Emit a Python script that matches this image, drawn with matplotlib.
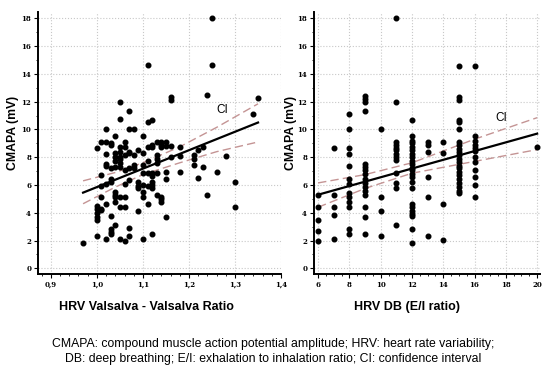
import matplotlib
matplotlib.use("Agg")
import matplotlib.pyplot as plt
from matplotlib.ticker import MultipleLocator

# Valsalva ratio panel
val_x = [0.97,
         1.00, 1.00, 1.00, 1.00, 1.00, 1.00, 1.00,
         1.01, 1.01, 1.01, 1.01, 1.01, 1.01,
         1.02, 1.02, 1.02, 1.02, 1.02, 1.02, 1.02, 1.02,
         1.03, 1.03, 1.03, 1.03, 1.03, 1.03, 1.03, 1.03, 1.03,
         1.04, 1.04, 1.04, 1.04, 1.04, 1.04, 1.04, 1.04, 1.04, 1.04,
         1.05, 1.05, 1.05, 1.05, 1.05, 1.05, 1.05, 1.05, 1.05, 1.05, 1.05,
         1.06, 1.06, 1.06, 1.06, 1.06, 1.06, 1.06, 1.06,
         1.07, 1.07, 1.07, 1.07, 1.07, 1.07, 1.07, 1.07,
         1.08, 1.08, 1.08, 1.08,
         1.09, 1.09, 1.09, 1.09, 1.09,
         1.10, 1.10, 1.10, 1.10, 1.10, 1.10, 1.10, 1.10,
         1.11, 1.11, 1.11, 1.11, 1.11, 1.11, 1.11,
         1.12, 1.12, 1.12, 1.12, 1.12, 1.12, 1.12, 1.12, 1.12,
         1.13, 1.13, 1.13, 1.13, 1.13, 1.13,
         1.14, 1.14, 1.14, 1.14, 1.14, 1.14,
         1.15, 1.15, 1.15, 1.15, 1.15,
         1.16, 1.16, 1.16, 1.16,
         1.18, 1.18, 1.18,
         1.21, 1.21, 1.21,
         1.22, 1.22,
         1.23, 1.23,
         1.24, 1.24,
         1.25, 1.25,
         1.26, 1.28, 1.30, 1.30, 1.34, 1.35]
val_y = [1.8,
         8.7, 4.5, 4.3, 4.0, 3.7, 3.5, 2.3,
         9.1, 6.7, 5.9, 5.1, 4.3, 4.2,
         10.0, 9.1, 8.2, 7.5, 7.4, 6.1, 4.6, 2.1,
         9.05, 8.9, 7.2, 6.4, 6.2, 3.8, 2.8, 2.6, 2.5,
         9.5, 8.3, 8.0, 7.7, 7.3, 5.5, 5.3, 5.1, 4.8, 3.1,
         12.0, 10.75, 8.75, 8.4, 8.0, 7.85, 7.55, 7.3, 5.1, 4.45, 2.1,
         9.1, 8.75, 8.15, 7.1, 6.1, 5.1, 4.45, 2.0,
         11.35, 10.0, 8.4, 8.3, 7.2, 6.35, 2.9, 2.3,
         10.0, 8.15, 7.45, 7.2,
         8.5, 6.25, 5.9, 5.75, 4.1,
         9.5, 8.3, 7.45, 6.85, 6.0, 5.5, 5.15, 2.1,
         14.65, 10.55, 8.75, 7.7, 6.85, 5.9, 4.65,
         10.7, 8.9, 8.75, 6.85, 6.65, 6.25, 6.0, 5.75, 2.5,
         9.1, 8.15, 7.9, 7.55, 6.85, 5.3,
         9.1, 8.9, 8.75, 5.15, 5.0, 4.8,
         9.1, 8.8, 6.95, 6.4, 3.7,
         12.35, 12.1, 8.8, 8.05,
         8.75, 8.1, 6.95,
         8.15, 7.9, 7.45,
         8.55, 6.5,
         8.75, 7.3,
         12.45, 5.3,
         18.0, 14.65,
         6.95, 8.1, 6.25, 4.45, 11.1, 12.3]
val_fit_x = [0.97, 1.35]
val_fit_y = [5.45, 10.5]
val_ci_x = [0.97, 1.04, 1.10, 1.18, 1.26, 1.35]
val_ci_hi = [6.3, 6.9, 7.6, 8.75, 10.15, 11.85]
val_ci_lo = [4.65, 5.85, 6.75, 7.6, 8.4, 9.1]
val_ticks = [0.9, 1.0, 1.1, 1.2, 1.3, 1.4]
val_ticklabels = ["0,9", "1,0", "1,1", "1,2", "1,3", "1,4"]

# deep breathing E/I panel
db_x = [6, 6, 6, 6, 6,
        7, 7, 7, 7, 7,
        8, 8, 8, 8, 8, 8, 8, 8, 8, 8, 8, 8, 8,
        9, 9, 9, 9, 9, 9, 9, 9, 9, 9, 9, 9, 9, 9, 9, 9,
        10, 10, 10, 10,
        11, 11, 11, 11, 11, 11, 11, 11, 11, 11, 11, 11, 11,
        12, 12, 12, 12, 12, 12, 12, 12, 12, 12, 12, 12,
        12, 12, 12, 12, 12, 12, 12, 12, 12, 12, 12,
        13, 13, 13, 13, 13, 13,
        14, 14, 14, 14,
        15, 15, 15, 15, 15, 15, 15, 15, 15, 15, 15,
        15, 15, 15, 15, 15, 15, 15, 15, 15, 15, 15,
        16, 16, 16, 16, 16, 16, 16, 16, 16, 16, 16, 16,
        20]
db_y = [5.3, 4.4, 3.5, 2.67, 2.0,
        8.7, 5.25, 4.45, 3.85, 2.1,
        11.1, 10.0, 8.7, 8.2, 7.4, 6.4, 6.1, 5.4, 5.1, 4.8, 4.45, 2.85, 2.5,
        12.4, 12.2, 12.0, 11.35, 7.5, 7.3, 7.1, 6.8, 6.4, 6.15, 5.85, 5.6, 5.25, 4.4, 3.7, 2.5,
        10.0, 5.1, 4.1, 2.3,
        18.0, 12.0, 9.1, 8.85, 8.7, 8.5, 8.25, 8.0, 7.8, 6.9, 6.15, 5.8, 3.1,
        10.7, 9.5, 9.2, 9.0, 8.75, 8.5, 8.25, 8.0, 7.7, 7.5, 7.25, 7.05,
        6.8, 6.6, 6.2, 5.8, 4.65, 4.4, 4.15, 3.9, 3.75, 2.8, 1.8,
        9.1, 8.85, 8.4, 6.6, 5.1, 2.3,
        9.1, 8.3, 4.6, 2.05,
        14.6, 12.35, 12.15, 10.7, 10.55, 10.0, 9.1, 8.85, 8.6, 8.4, 8.15,
        7.9, 7.65, 7.4, 7.2, 6.95, 6.7, 6.45, 6.15, 5.85, 5.6, 5.4,
        14.6, 9.5, 9.2, 8.9, 8.7, 8.45, 8.0, 7.65, 7.1, 6.55, 6.0, 5.1,
        8.75]
db_fit_x = [6, 20]
db_fit_y = [5.3, 9.7]
db_ci_x = [6, 9, 12, 16, 20]
db_ci_hi = [6.15, 6.75, 7.6, 9.3, 10.85]
db_ci_lo = [4.4, 5.75, 6.85, 7.7, 8.55]
db_ticks = [6, 8, 10, 12, 14, 16, 18, 20]

y_ticks = [0, 2, 4, 6, 8, 10, 12, 14, 16, 18]

tick_font = dict(family="DejaVu Serif", weight="bold", size=5)
ci_color = "#c49494"

fig = plt.figure(figsize=(5.5, 3.69), dpi=100)
ax1 = fig.add_axes([0.069, 0.2575, 0.442, 0.7095])
ax2 = fig.add_axes([0.571, 0.2575, 0.411, 0.7095])


def style_axis(ax, label_x):
    for s in ["top", "right"]:
        ax.spines[s].set_visible(False)
    for s in ["left", "bottom"]:
        ax.spines[s].set_linewidth(1.4)
    ax.grid(True, color="#c8c8c8", linestyle=":", linewidth=0.8)
    ax.set_axisbelow(True)
    ax.set_yticks(y_ticks)
    ax.yaxis.set_minor_locator(MultipleLocator(1))
    ax.set_ylim(-0.41, 18.45)
    ax.tick_params(which="major", length=3, width=0.8, pad=2)
    ax.tick_params(which="minor", length=1.5, width=0.6)
    for lab in ax.get_yticklabels():
        lab.set(**tick_font)
    ax.set_ylabel("CMAPA (mV)", family="Liberation Sans", weight="bold",
                  fontsize=8.8)
    ax.yaxis.set_label_coords(label_x, 0.54)


ax1.scatter(val_x, val_y, s=11, color="black", zorder=3)
ax1.plot(val_fit_x, val_fit_y, color="black", linewidth=1.6, zorder=4)
ax1.plot(val_ci_x, val_ci_hi, color=ci_color, linewidth=1, dashes=(6, 3))
ax1.plot(val_ci_x, val_ci_lo, color=ci_color, linewidth=1, dashes=(6, 3))
ax1.set_xlim(0.872, 1.40)
ax1.set_xticks(val_ticks)
ax1.set_xticklabels(val_ticklabels)
ax1.xaxis.set_minor_locator(MultipleLocator(0.02))
style_axis(ax1, -0.078)
for lab in ax1.get_xticklabels():
    lab.set(**tick_font)
ax1.text(1.26, 11.2, "CI", fontsize=8.5, family="Liberation Sans")

ax2.scatter(db_x, db_y, s=11, color="black", zorder=3)
ax2.plot(db_fit_x, db_fit_y, color="black", linewidth=1.6, zorder=4)
ax2.plot(db_ci_x, db_ci_hi, color=ci_color, linewidth=1, dashes=(6, 3))
ax2.plot(db_ci_x, db_ci_lo, color=ci_color, linewidth=1, dashes=(6, 3))
ax2.set_xlim(5.74, 20.19)
ax2.set_xticks(db_ticks)
ax2.xaxis.set_minor_locator(MultipleLocator(0.5))
style_axis(ax2, -0.075)
for lab in ax2.get_xticklabels():
    lab.set(**tick_font)
ax2.text(17.3, 10.6, "CI", fontsize=8.5, family="Liberation Sans")

fig.text(0.267, 0.16, "HRV Valsalva - Valsalva Ratio", ha="center",
         family="Liberation Sans", weight="bold", fontsize=9)
fig.text(0.74, 0.16, "HRV DB (E/I ratio)", ha="center",
         family="Liberation Sans", weight="bold", fontsize=9)
fig.text(0.497, 0.012,
         "CMAPA: compound muscle action potential amplitude; HRV: heart rate variability;\n"
         "DB: deep breathing; E/I: exhalation to inhalation ratio; CI: confidence interval",
         ha="center", va="bottom", family="Liberation Sans", fontsize=8.8,
         linespacing=1.3)

fig.savefig("out.png", dpi=100)
